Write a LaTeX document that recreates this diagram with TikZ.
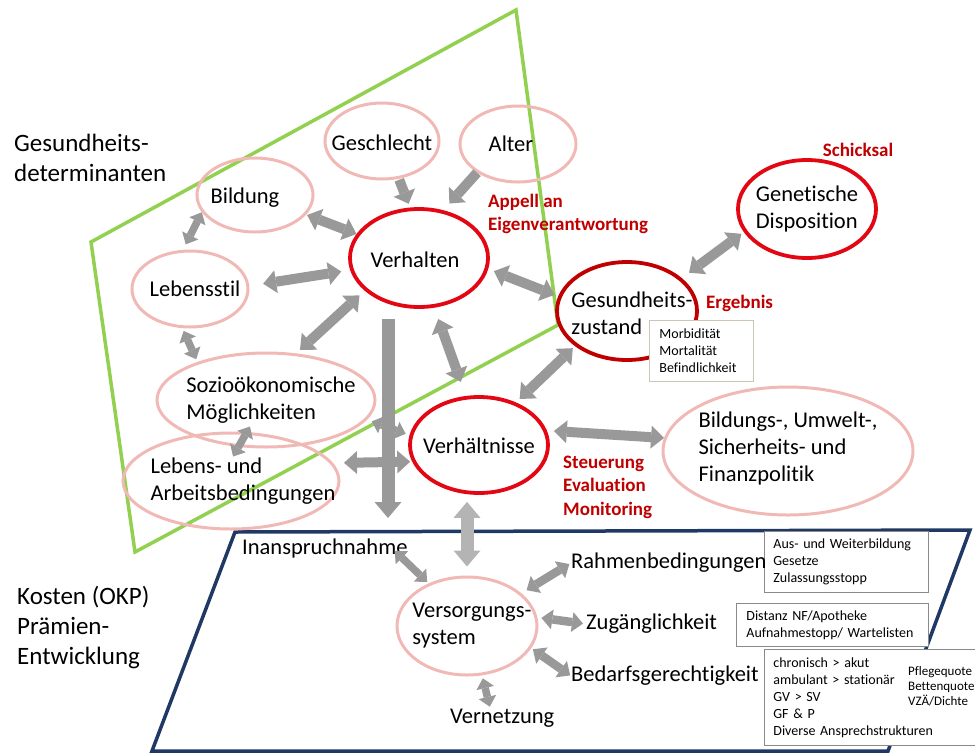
\documentclass[tikz,border=0pt]{standalone}
\usepackage{fontspec}
\setmainfont{Carlito}[Ligatures=NoCommon]
\usetikzlibrary{arrows.meta,calc,shapes.geometric}
\definecolor{pink300} {HTML}{F1B9B6}
\definecolor{red500}  {HTML}{E30613}
\definecolor{red700}  {HTML}{C00000}
\definecolor{green400}{HTML}{92D050}
\definecolor{navy700} {HTML}{1F3864}
\definecolor{grey500} {HTML}{999999}
\definecolor{grey400} {HTML}{B4B4B4}
\definecolor{grey600} {HTML}{8A8A8A}
\definecolor{sand300} {HTML}{CCC5B5}
\tikzset{
  ell/.style   ={ellipse, draw=pink300, line width=3pt, inner sep=0pt},
  ellr/.style  ={ellipse, draw=red500, line width=3.8pt, inner sep=0pt},
  etxt/.style  ={font=\fontsize{22.5}{27}\selectfont, align=left, inner sep=0pt},
  lbl/.style   ={font=\fontsize{22.5}{27}\selectfont, align=left, inner sep=0pt,
                 anchor=west},
  big/.style   ={font=\fontsize{25}{30}\selectfont, align=left, inner sep=0pt,
                 anchor=west},
  rtxt/.style  ={font=\bfseries\fontsize{19}{23.5}\selectfont, text=red700,
                 align=left, inner sep=0pt, anchor=west},
  box/.style   ={draw=grey600, line width=0.8pt, fill=white, anchor=north west,
                 align=left, inner xsep=9pt, inner ysep=0pt,
                 font=\fontsize{14}{17}\selectfont},
  qtxt/.style  ={font=\fontsize{13}{15}\selectfont, align=left,
                 inner sep=0pt, anchor=west},
  sarr/.style  ={draw=grey500, line width=10pt,
                 -{Triangle[length=12pt, width=23pt, line width=0pt]}},
  barr/.style  ={draw=grey500, line width=13pt,
                 -{Triangle[length=16pt, width=27pt, line width=0pt]}},
  darr/.style  ={draw=grey500, line width=10pt,
                 {Triangle[length=13pt, width=23pt, line width=0pt]}-%
                 {Triangle[length=13pt, width=23pt, line width=0pt]}},
  darrm/.style ={draw=grey500, line width=8.5pt,
                 {Triangle[length=11pt, width=20pt, line width=0pt]}-%
                 {Triangle[length=11pt, width=20pt, line width=0pt]}},
  darrs/.style ={draw=grey500, line width=7.5pt,
                 {Triangle[length=10pt, width=18pt, line width=0pt]}-%
                 {Triangle[length=10pt, width=18pt, line width=0pt]}},
  darrl/.style ={draw=grey400, line width=13pt,
                 {Triangle[length=16pt, width=27pt, line width=0pt]}-%
                 {Triangle[length=16pt, width=27pt, line width=0pt]}}
}
\begin{document}
\begin{tikzpicture}[x=1pt,y=-1pt]
\useasboundingbox (0,0) rectangle (975,753);

% the two fields
\draw[green400, line width=3.5pt] (91,242) -- (516,10) -- (558,325) -- (135,552) -- cycle;
\draw[navy700, line width=3.5pt] (235,532) -- (970,530) -- (888,751) -- (152,751) -- cycle;

% determinants
\node[ell, minimum width=114, minimum height=76,
      label={[etxt, yshift=-2]center:Geschlecht}] (gesch) at (382,141) {};
\node[ell, minimum width=116, minimum height=76,
      label={[etxt, xshift=-7]center:Alter}] (alter) at (518,144) {};
\node[ell, minimum width=116, minimum height=74,
      label={[etxt, xshift=-10, yshift=-3]center:Bildung}] (bild) at (255,195) {};
\node[ell, minimum width=116, minimum height=76,
      label={[etxt, xshift=5]center:Lebensstil}] (lstil) at (190,289) {};
\node[ellr, minimum width=138, minimum height=98,
      label={[etxt, xshift=-4, yshift=-2]center:Verhalten}] (verh) at (419,258) {};
\node[ell, minimum width=218, minimum height=94,
      label={[etxt, xshift=5]center:{Sozioökonomische\\Möglichkeiten}}] (sozio) at (266,400) {};
\node[ell, minimum width=216, minimum height=96,
      label={[etxt, xshift=12]center:{Lebens- und\\Arbeitsbedingungen}}] (arb) at (231,481) {};
\node[ellr, minimum width=138, minimum height=96,
      label={[etxt, yshift=-1]center:Verhältnisse}] (verhn) at (479,445) {};
\node[ellr, draw=red700, minimum width=140, minimum height=98,
      label={[etxt, xshift=5, yshift=-2]center:{Gesundheits-\\zustand}}] (gz) at (627,311) {};
\node[ellr, minimum width=138, minimum height=98,
      label={[etxt]center:{Genetische\\Disposition}}] (gen) at (807,209) {};
\node[ell, minimum width=250, minimum height=128,
      label={[etxt, yshift=3]center:{Bildungs-, Umwelt-,\\Sicherheits- und\\Finanzpolitik}}] (pol) at (788,451) {};
\node[ell, minimum width=140, minimum height=98,
      label={[etxt, xshift=5]center:{Versorgungs-\\system}}] (vers) at (467,626) {};

% side titles and red notes
\node[big] (gd) at (14,158) {Gesundheits-\\determinanten};
\node[big] (kosten) at (17,627) {Kosten (OKP)\\Prämien-\\Entwicklung};
\node[rtxt, anchor=center] (schick) at (858,150) {Schicksal};
\node[rtxt] (appell) at (488,214) {Appell an\\Eigenverantwortung};
\node[rtxt] (ergeb) at (706,303) {Ergebnis};
\node[rtxt] (steu) at (563,487) {Steuerung\\Evaluation\\Monitoring};

% note boxes
\node[box, draw=sand300, minimum width=104, minimum height=61, text width=84]
  (morb) at (649,320) {Morbidität\\Mortalität\\Befindlichkeit};
\node[box, minimum width=164, minimum height=61, text width=146]
  (aus) at (764,531) {Aus- und Weiterbildung\\Gesetze\\Zulassungsstopp};
\node[box, minimum width=192, minimum height=43, text width=172, inner xsep=10pt]
  (dist) at (736,603) {Distanz NF/Apotheke\\Aufnahmestopp/ Wartelisten};
\node[box, minimum width=230, minimum height=96, text width=212]
  (chron) at (764,649) {chronisch > akut\\ambulant > stationär\\GV > SV\\GF \& P\\Diverse Ansprechstrukturen};
\node[qtxt] (quote) at (908,686) {Pflegequote\\Bettenquote\\VZÄ/Dichte};

% care system labels
\node[lbl] (inan) at (242,548) {Inanspruchnahme};
\node[lbl] (rahm) at (571,563) {Rahmenbedingungen};
\node[lbl] (zug) at (586,624) {Zugänglichkeit};
\node[lbl] (bed) at (571,676) {Bedarfsgerechtigkeit};
\node[lbl] (vern) at (450,718) {Vernetzung};
\coordinate (nach) at (388,518);

% block arrows
\draw[sarr, shorten <=1, shorten >=4] (gesch.-66) -- (verh.100);
\draw[sarr, shorten >=9] (alter.215) -- (verh.63);
\draw[darr, shorten <=1] (bild) -- (verh);
\draw[darrs, shorten >=6] (bild.198) -- (lstil.100);
\draw[darr, shorten <=14, shorten >=9] (lstil.3) -- (verh.190);
\draw[darrs, shorten <=3, shorten >=3] (lstil.259) -- (sozio.151);
\draw[darr, shorten <=5, shorten >=7] (sozio.57) -- (verh.211);
\draw[barr, shorten <=10] (verh.south -| nach) -- (nach);
\draw[darr, shorten <=12, shorten >=15] (verh.-73) -- (verhn.105);
\draw[darr, shorten <=6, shorten >=4] (verh.-9) -- (gz.168);
\draw[darr, shorten <=9, shorten >=3] (gz.31) -- (gen.200);
\draw[darr, shorten <=3, shorten >=5] (gz.214) -- (verhn.49);
\draw[darrs, shorten <=5, shorten >=4] (sozio.-11) -- (verhn.172);
\draw[darr, shorten <=11, shorten >=2] (arb.10) -- (verhn.194);
\draw[darrs] ($(sozio.south)+(-16,-22)$) -- ($(arb.north)+(2,25)$);
\draw[darr, shorten <=7] (verhn.12) -- (pol.174);
\draw[darrl, shorten <=7, shorten >=9] (vers.north |- verhn.south) -- (vers.north);
\draw[darrs, shorten >=2] ($(inan.south east)+(-13,-7)$) -- (vers.132);
\draw[darrm, shorten <=6, shorten >=2] (vers.31) -- (rahm.west);
\draw[darrm, shorten <=4, shorten >=3] (vers.7) -- (zug.west);
\draw[darrm, shorten <=2, shorten >=1] (vers.-19) -- (bed.west);
\draw[darrs, shorten <=3, shorten >=2] (vers.-73) -- ($(vern.north)+(-12,0)$);
\end{tikzpicture}
\end{document}
